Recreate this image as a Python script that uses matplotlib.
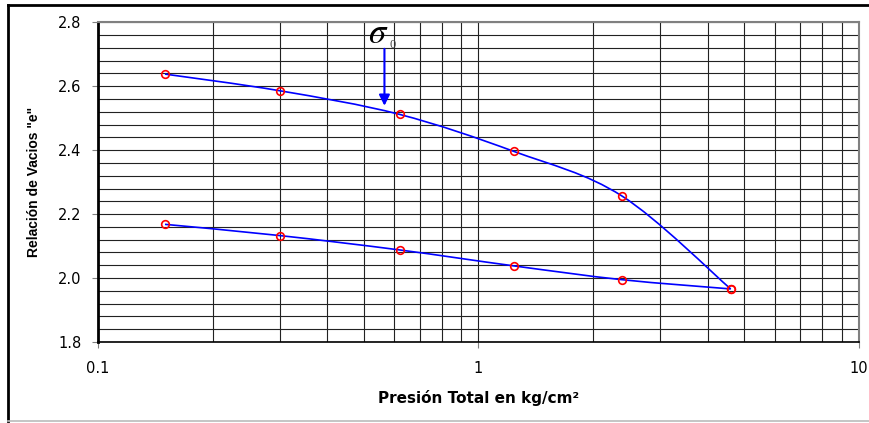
import numpy as np
import matplotlib
matplotlib.use('Agg')
import matplotlib.pyplot as plt
from matplotlib.path import Path
from matplotlib.patches import PathPatch
from matplotlib.lines import Line2D
from matplotlib.ticker import FixedLocator, NullFormatter

plt.rcParams['font.family'] = ['DejaVu Sans']
plt.rcParams['mathtext.fontset'] = 'stix'

# Datos: presión (kg/cm²) y relación de vacíos
presion = [0.15, 0.30, 0.62, 1.24, 2.38, 4.60]
e_carga = [2.638, 2.586, 2.512, 2.396, 2.257, 1.966]
e_descarga = [2.168, 2.133, 2.088, 2.038, 1.995, 1.966]

sigma0 = 0.566          # posición de la flecha σ0
x_ticks = [0.1, 1, 10]
x_tick_labels = ['0.1', '1', '10']
y_ticks = [1.8, 2.0, 2.2, 2.4, 2.6, 2.8]


def curva_suave(xs, ys):
    # suavizado tipo Excel (Bezier en espacio log-x)
    pts = np.column_stack([np.log10(xs), ys])
    n = len(pts)
    verts = [pts[0]]
    codes = [Path.MOVETO]
    for i in range(n - 1):
        p0 = pts[i - 1] if i > 0 else pts[i]
        p1 = pts[i]
        p2 = pts[i + 1]
        p3 = pts[i + 2] if i + 2 < n else pts[i + 1]
        verts += [p1 + (p2 - p0) / 6, p2 - (p3 - p1) / 6, p2]
        codes += [Path.CURVE4] * 3
    verts = np.array(verts)
    verts[:, 0] = 10 ** verts[:, 0]
    return Path(verts, codes)


fig = plt.figure(figsize=(8.7, 4.23), dpi=100)
ax = fig.add_axes([98 / 870, 1 - 342 / 423, (859 - 98) / 870, (342 - 22.3) / 423])
ax.set_xscale('log')
ax.set_xlim(0.1, 10)
ax.set_ylim(1.8, 2.8)

# cuadrícula
ax.xaxis.set_major_locator(FixedLocator(x_ticks))
ax.set_xticklabels(x_tick_labels)
ax.xaxis.set_minor_locator(FixedLocator([m * d for d in (0.1, 1) for m in range(2, 10)]))
ax.xaxis.set_minor_formatter(NullFormatter())
ax.set_yticks(y_ticks)
ax.set_yticklabels([f'{v:.1f}' for v in y_ticks])
ax.set_yticks(np.arange(1.84, 2.8, 0.04), minor=True)
ax.grid(True, which='both', color='#222222', lw=0.8)
ax.tick_params(which='minor', length=0)
ax.tick_params(axis='x', which='major', length=4, pad=10, labelsize=10.5, color='#808080')
ax.tick_params(axis='y', which='major', length=4, pad=8, labelsize=10.5, color='#808080')
ax.set_axisbelow(True)

for s in ['top', 'right']:
    ax.spines[s].set_color('#808080')
    ax.spines[s].set_linewidth(1.5)
ax.spines['left'].set_linewidth(2)
ax.spines['bottom'].set_linewidth(1.2)

# curvas
for serie in (e_carga, e_descarga):
    ax.add_patch(PathPatch(curva_suave(presion, serie), fill=False,
                           edgecolor='#0000FF', lw=1.2, zorder=3))
    ax.plot(presion, serie, ls='none', marker='o', ms=5.5, mfc='none',
            mec='#FF0000', mew=1.2, zorder=4)

# flecha sigma0
ax.annotate('', xy=(sigma0, 2.539), xytext=(sigma0, 2.717),
            arrowprops=dict(arrowstyle='-|>', color='#0000FF', lw=1.5,
                            mutation_scale=16, shrinkA=0, shrinkB=0), zorder=5)
ax.text(0.546, 2.735, r'$\sigma$', fontsize=25, ha='center', va='baseline', zorder=5)
ax.text(0.582, 2.720, '0', family='Liberation Serif', fontsize=9,
        ha='left', va='baseline', color='#444444', zorder=5)

ax.set_xlabel('Presión Total en kg/cm²', fontsize=11, fontweight='bold', labelpad=10)
ax.set_ylabel('Relación de Vacios "e"', family='Liberation Sans', fontsize=10,
              fontweight='bold', labelpad=12)

# marco exterior
fig.add_artist(Line2D([8 / 870, 1], [1 - 5 / 423] * 2, color='black', lw=2))
fig.add_artist(Line2D([8 / 870] * 2, [1 - 5 / 423, 1 - 421 / 423], color='black', lw=2))
fig.add_artist(Line2D([8 / 870, 1], [1 - 421 / 423] * 2, color='#BBBBBB', lw=1.2))

fig.savefig('out.png', dpi=100)
